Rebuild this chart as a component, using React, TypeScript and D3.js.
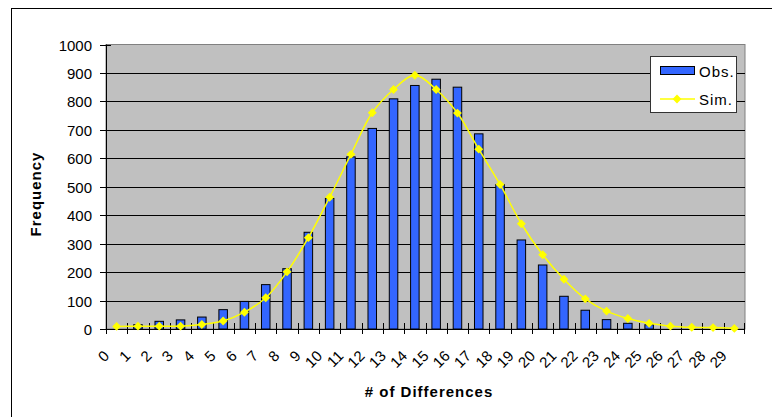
import { useEffect, useRef } from 'react';
import * as d3 from 'd3';

const categories = ['0', '1', '2', '3', '4', '5', '6', '7', '8', '9', '10', '11', '12', '13', '14',
  '15', '16', '17', '18', '19', '20', '21', '22', '23', '24', '25', '26', '27', '28', '29'];
const observed = [0, 15, 27, 32, 42, 68, 97, 156, 212, 340, 459, 605, 705, 809, 856,
  878, 850, 686, 508, 313, 225, 115, 66, 33, 20, 15, 0, 0, 0, 0];
const simulated = [9, 10, 10, 10, 16, 28, 59, 110, 201, 321, 463, 614, 760, 842, 892,
  842, 759, 632, 508, 370, 261, 175, 106, 63, 37, 20, 10, 6, 5, 2];
const yTicks = [0, 100, 200, 300, 400, 500, 600, 700, 800, 900, 1000];

const FONT = '"Liberation Sans", Arial, sans-serif';

export default function App() {
  const svgRef = useRef<SVGSVGElement>(null);

  useEffect(() => {
    if (!svgRef.current) return;
    const svg = d3.select(svgRef.current);
    svg.selectAll('*').remove();

    const plot = { left: 106, right: 745, top: 44.5, bottom: 329 };

    // outer chart frame (runs off the page on right and bottom)
    svg.append('rect')
      .attr('x', 11.5).attr('y', 8.5)
      .attr('width', 900).attr('height', 600)
      .attr('fill', '#fff').attr('stroke', '#000').attr('stroke-width', 1);

    const xCat = d3.scaleBand<string>()
      .domain(categories)
      .range([plot.left, plot.right])
      .padding(0);

    const xBar = d3.scaleBand<string>()
      .domain(categories)
      .range([plot.left, plot.right])
      .paddingInner(0.6)
      .paddingOuter(0.3);

    const y = d3.scaleLinear().domain([0, 1000]).range([plot.bottom, plot.top]);

    // plot area background
    svg.append('rect')
      .attr('x', plot.left).attr('y', plot.top)
      .attr('width', plot.right - plot.left).attr('height', plot.bottom - plot.top)
      .attr('fill', '#c0c0c0')
      .attr('stroke', '#808080').attr('stroke-width', 1);

    // gridlines
    svg.append('g')
      .selectAll('line')
      .data(yTicks.filter(t => t > 0 && t < 1000))
      .enter()
      .append('line')
      .attr('x1', plot.left).attr('x2', plot.right)
      .attr('y1', d => Math.round(y(d)) + 0.5).attr('y2', d => Math.round(y(d)) + 0.5)
      .attr('stroke', '#000').attr('stroke-width', 1);

    // bars
    svg.append('g')
      .selectAll('rect')
      .data(categories.map((c, i) => ({ c, v: observed[i] })).filter(d => d.v > 0))
      .enter()
      .append('rect')
      .attr('x', d => xBar(d.c) as number)
      .attr('y', d => y(d.v))
      .attr('width', xBar.bandwidth())
      .attr('height', d => plot.bottom - y(d.v))
      .attr('fill', '#3366ff')
      .attr('stroke', '#000').attr('stroke-width', 1);

    // axes lines
    svg.append('line')
      .attr('x1', plot.left + 0.5).attr('x2', plot.left + 0.5)
      .attr('y1', plot.top).attr('y2', plot.bottom)
      .attr('stroke', '#000');
    svg.append('line')
      .attr('x1', plot.left).attr('x2', plot.right)
      .attr('y1', plot.bottom + 0.5).attr('y2', plot.bottom + 0.5)
      .attr('stroke', '#000');

    // y ticks + labels
    const yg = svg.append('g');
    yTicks.forEach(t => {
      const yy = Math.round(y(t)) + 0.5;
      yg.append('line')
        .attr('x1', plot.left - 6).attr('x2', plot.left + 5)
        .attr('y1', yy).attr('y2', yy)
        .attr('stroke', '#000');
      yg.append('text')
        .attr('x', 92).attr('y', yy)
        .attr('text-anchor', 'end')
        .attr('dominant-baseline', 'central')
        .style('font-family', FONT)
        .style('font-size', '15px')
        .attr('fill', '#000')
        .text(String(t));
    });

    // x ticks at category boundaries
    const xg = svg.append('g');
    categories.forEach(c => {
      const xx = Math.round(xCat(c) as number) + 0.5;
      xg.append('line')
        .attr('x1', xx).attr('x2', xx)
        .attr('y1', plot.bottom - 6).attr('y2', plot.bottom + 5)
        .attr('stroke', '#000');
    });
    const lastX = plot.right - 0.5;
    xg.append('line')
      .attr('x1', lastX).attr('x2', lastX)
      .attr('y1', plot.bottom - 6).attr('y2', plot.bottom + 5)
      .attr('stroke', '#000');

    // rotated category labels
    categories.forEach(c => {
      const cx = (xCat(c) as number) + xCat.bandwidth() / 2;
      const px = cx - 10.5;
      const py = 353;
      xg.append('text')
        .attr('transform', `translate(${px},${py}) rotate(-45)`)
        .attr('text-anchor', 'end')
        .attr('dominant-baseline', 'central')
        .style('font-family', FONT)
        .style('font-size', '15px')
        .attr('fill', '#000')
        .text(c);
    });

    // simulated line
    const line = d3.line<number>()
      .x((_, i) => (xCat(categories[i]) as number) + xCat.bandwidth() / 2)
      .y(d => y(d))
      .curve(d3.curveCatmullRom.alpha(0.5));

    svg.append('path')
      .datum(simulated)
      .attr('d', line)
      .attr('fill', 'none')
      .attr('stroke', '#ffff00')
      .attr('stroke-width', 1.5);

    const diamond = d3.symbol().type(d3.symbolDiamond2).size(50);
    svg.append('g')
      .selectAll('path')
      .data(simulated)
      .enter()
      .append('path')
      .attr('d', diamond)
      .attr('transform', (d, i) =>
        `translate(${(xCat(categories[i]) as number) + xCat.bandwidth() / 2},${y(d)})`)
      .attr('fill', '#ffff00');

    // axis titles
    svg.append('text')
      .attr('transform', `translate(35,194) rotate(-90)`)
      .attr('text-anchor', 'middle')
      .attr('dominant-baseline', 'central')
      .style('font-family', FONT)
      .style('font-size', '15px')
      .style('font-weight', 'bold')
      .style('letter-spacing', '1px')
      .text('Frequency');

    svg.append('text')
      .attr('x', 429).attr('y', 391)
      .attr('text-anchor', 'middle')
      .attr('dominant-baseline', 'central')
      .style('font-family', FONT)
      .style('font-size', '15px')
      .style('font-weight', 'bold')
      .style('letter-spacing', '1px')
      .text('# of Differences');

    // legend
    const lg = svg.append('g');
    lg.append('rect')
      .attr('x', 650.5).attr('y', 56.5)
      .attr('width', 86).attr('height', 56)
      .attr('fill', '#fff')
      .attr('stroke', '#333').attr('stroke-width', 1);
    lg.append('rect')
      .attr('x', 660.5).attr('y', 66.5)
      .attr('width', 34).attr('height', 8)
      .attr('fill', '#3366ff')
      .attr('stroke', '#000');
    lg.append('line')
      .attr('x1', 660).attr('x2', 695)
      .attr('y1', 99).attr('y2', 99)
      .attr('stroke', '#ffff00').attr('stroke-width', 1.5);
    lg.append('path')
      .attr('d', diamond)
      .attr('transform', 'translate(677,99)')
      .attr('fill', '#ffff00');
    [['Obs.', 71], ['Sim.', 99]].forEach(([label, ly]) => {
      lg.append('text')
        .attr('x', 699).attr('y', ly as number)
        .attr('dominant-baseline', 'central')
        .style('font-family', FONT)
        .style('font-size', '15px')
        .style('letter-spacing', '1px')
        .text(label as string);
    });
  }, []);

  return (
    <svg
      ref={svgRef}
      width={772}
      height={417}
      style={{ position: 'absolute', left: 0, top: 0, display: 'block' }}
    />
  );
}
